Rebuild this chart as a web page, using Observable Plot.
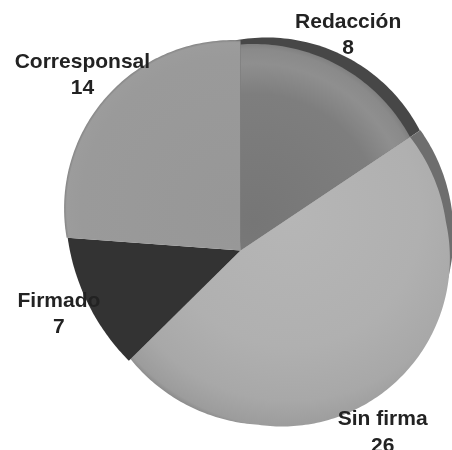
<!DOCTYPE html>
<html>
<head>
<meta charset="utf-8">
<script src="https://cdn.jsdelivr.net/npm/d3@7"></script>
<script src="https://cdn.jsdelivr.net/npm/@observablehq/plot@0.6"></script>
<style>
html,body{margin:0;padding:0;background:#fff}
svg{display:block;filter:blur(0.5px)}
</style>
</head>
<body>
<div id="chart"></div>
<script>
// Data
const categories = ["Redacción", "Sin firma", "Firmado", "Corresponsal"];
const values = [8, 26, 7, 14];

// Layout of the tilted pie (in the chart's x/y scale units)
const apex = [240, 250];
const tilt = {xy: 0.102, yy: 1};
const faceCircles = [
  [[253.4, 221, 177.5]],
  [[268.6, 246.1, 178.5], [281.4, 258, 168]],
  [[283, 206.6, 218]],
  [[232, 208, 168.4]]
];
const rimCircles = [[[266, 210, 173]], [[272.4, 233.9, 180.6]]];
const rimEndAngle = (106 / 180) * Math.PI;
const labelDistance = [245, 232, 198, 232];
const labelNudgeX = [-5, -7, 5, 0];
const labelNudgeY = [0, 2, -5, -8];
const fills = ["url(#gRed)", "url(#gSin)", "#333333", "url(#gCor)"];

const arcs = d3.pie().sort(null).value((d) => d)(values);
const dir = (a) => {
  const s = Math.sin(a), c = Math.cos(a);
  const v = [s, tilt.xy * s - tilt.yy * c], n = Math.hypot(v[0], v[1]);
  return [v[0] / n, v[1] / n];
};
const hit = (a, circles) => {
  const [dx, dy] = dir(a);
  const t = d3.max(circles, ([cx, cy, r]) => {
    const ox = apex[0] - cx, oy = apex[1] - cy;
    const b = ox * dx + oy * dy;
    return -b + Math.sqrt(Math.max(0, b * b - (ox * ox + oy * oy - r * r)));
  });
  return [apex[0] + t * dx, apex[1] + t * dy];
};
const wedge = (name, a0, a1, circles) => {
  const pts = [{name, x: apex[0], y: apex[1]}];
  const n = Math.ceil((a1 - a0) * 60);
  for (let i = 0; i <= n; ++i) {
    const [x, y] = hit(a0 + ((a1 - a0) * i) / n, circles);
    pts.push({name, x, y});
  }
  return pts;
};

const faces = arcs.flatMap((d, i) => wedge(categories[i], d.startAngle, d.endAngle, faceCircles[i]));
const rimA = wedge("a", arcs[0].startAngle - 0.05, arcs[0].endAngle, rimCircles[0]);
const rimB = wedge("b", arcs[1].startAngle, rimEndAngle, rimCircles[1]);
const labels = arcs.map((d, i) => {
  const [dx, dy] = dir((d.startAngle + d.endAngle) / 2);
  return {
    text: categories[i] + "\n" + values[i],
    x: apex[0] + dx * labelDistance[i] + labelNudgeX[i],
    y: apex[1] + dy * labelDistance[i] + labelNudgeY[i]
  };
});

const radial = (id, cx, cy, r, stops) => {
  const g = document.createElementNS("http://www.w3.org/2000/svg", "radialGradient");
  g.setAttribute("id", id);
  g.setAttribute("gradientUnits", "userSpaceOnUse");
  g.setAttribute("cx", cx); g.setAttribute("cy", cy); g.setAttribute("r", r);
  for (const [o, c] of stops) {
    const s = document.createElementNS("http://www.w3.org/2000/svg", "stop");
    s.setAttribute("offset", o); s.setAttribute("stop-color", c);
    g.appendChild(s);
  }
  return g;
};
const defs = () => {
  const d = document.createElementNS("http://www.w3.org/2000/svg", "defs");
  d.appendChild(radial("gRed", 253.4, 221, 177.5, [[0, "#767676"], [0.72, "#7e7e7e"], [0.89, "#8f8f8f"], [0.97, "#8a8a8a"], [1, "#808080"]]));
  d.appendChild(radial("gSin", 290, 215, 218, [[0, "#b6b6b6"], [0.6, "#b0b0b0"], [0.85, "#a8a8a8"], [0.97, "#9c9c9c"], [1, "#868686"]]));
  d.appendChild(radial("gCor", 232, 208, 168.4, [[0, "#979797"], [0.9, "#9a9a9a"], [0.985, "#9c9c9c"], [1, "#848484"]]));
  return d;
};

const chart = Plot.plot({
  width: 452,
  height: 450,
  margin: 0,
  style: {background: "white"},
  x: {domain: [0, 452], range: [0, 452], axis: null},
  y: {domain: [0, 450], range: [0, 450], axis: null},
  color: {type: "ordinal", domain: categories, range: fills},
  marks: [
    defs,
    Plot.line(rimA, {x: "x", y: "y", z: "name", fill: "#474747", stroke: "none"}),
    Plot.line(rimB, {x: "x", y: "y", z: "name", fill: "#6e6e6e", stroke: "none"}),
    Plot.line(faces, {x: "x", y: "y", z: "name", fill: "name", stroke: "none"}),
    Plot.text(labels, {
      x: "x", y: "y", text: "text",
      fontFamily: "Liberation Sans", fontWeight: "bold", fontSize: 21,
      lineHeight: 1.25, fill: "#222", textAnchor: "middle"
    })
  ]
});
document.getElementById("chart").appendChild(chart);
</script>
</body>
</html>
